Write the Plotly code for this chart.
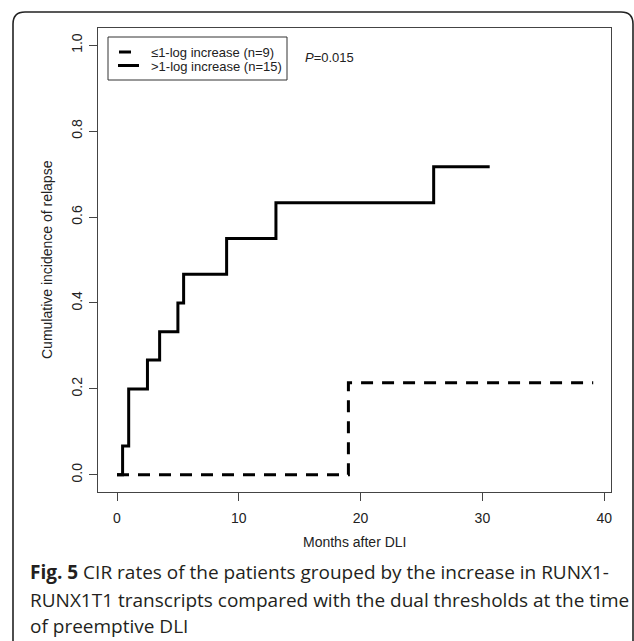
import plotly.graph_objects as go

# ---- data ----
months_high = [0, 0.46, 0.96, 2.5, 3.5, 5.0, 5.47, 9.0, 13.05, 26.0, 30.6]
cir_high = [0, 0.067, 0.2, 0.267, 0.333, 0.4, 0.467, 0.55, 0.633, 0.717, 0.717]
months_low = [0, 19.0, 39.1]
cir_low = [0, 0.214, 0.214]

x_ticks = [0, 10, 20, 30, 40]
y_ticks = [0.0, 0.2, 0.4, 0.6, 0.8, 1.0]
y_tick_labels = ["0.0", "0.2", "0.4", "0.6", "0.8", "1.0"]

legend_labels = ["≤1-log increase (n=9)", ">1-log increase (n=15)"]
p_text = "<i>P</i>=0.015"
x_title = "Months after DLI"
y_title = "Cumulative incidence of relapse"
caption_lines = [
    "<b>Fig. 5</b> CIR rates of the patients grouped by the increase in RUNX1-",
    "RUNX1T1 transcripts compared with the dual thresholds at the time",
    "of preemptive DLI",
]

W, H = 634, 641


def px(x):
    return x / W


def py(y):
    return 1 - y / H


fig = go.Figure()
fig.add_trace(go.Scatter(x=months_low, y=cir_low, mode="lines", line_shape="hv",
                         line=dict(color="black", width=3, dash="12px,9px"),
                         showlegend=False, hoverinfo="skip"))
fig.add_trace(go.Scatter(x=months_high, y=cir_high, mode="lines", line_shape="hv",
                         line=dict(color="black", width=3),
                         showlegend=False, hoverinfo="skip"))

FONT = "Liberation Sans, Arial"
axis_font = dict(family=FONT, size=14, color="#222")

fig.update_layout(
    width=W, height=H,
    margin=dict(l=0, r=0, t=0, b=0),
    paper_bgcolor="white", plot_bgcolor="white",
    xaxis=dict(domain=[px(98), px(611)], range=[-1.56, 40.56],
               tickvals=x_ticks, ticks="outside", ticklen=8, tickwidth=1,
               tickcolor="#444", showgrid=False, zeroline=False,
               showline=True, linecolor="#444", linewidth=1, mirror=True,
               tickfont=axis_font, ticklabelstandoff=5),
    yaxis=dict(domain=[py(492), py(28)], range=[-0.04, 1.04],
               tickvals=y_ticks, ticktext=y_tick_labels, ticks="outside",
               ticklen=8, tickwidth=1, tickcolor="#444", tickangle=-90,
               showgrid=False, zeroline=False,
               showline=True, linecolor="#444", linewidth=1, mirror=True,
               tickfont=axis_font, ticklabelstandoff=1),
    font=dict(family=FONT, color="#222"),
)

shapes = []
# outer rounded frame
r = 12
x0, y0, x1, y1 = 13, 12, 633, 700
path = (f"M {px(x0)},{py(y1)} L {px(x0)},{py(y0 + r)} "
        f"Q {px(x0)},{py(y0)} {px(x0 + r)},{py(y0)} "
        f"L {px(x1 - r)},{py(y0)} Q {px(x1)},{py(y0)} {px(x1)},{py(y0 + r)} "
        f"L {px(x1)},{py(y1)}")
shapes.append(dict(type="path", xref="paper", yref="paper", path=path,
                   line=dict(color="#222", width=1.6)))
# legend box
shapes.append(dict(type="rect", xref="paper", yref="paper",
                   x0=px(108), x1=px(287), y0=py(80), y1=py(37),
                   line=dict(color="#333", width=1), fillcolor="white"))
shapes.append(dict(type="line", xref="paper", yref="paper",
                   x0=px(119), x1=px(131), y0=py(52), y1=py(52),
                   line=dict(color="black", width=3)))
shapes.append(dict(type="line", xref="paper", yref="paper",
                   x0=px(118), x1=px(139), y0=py(65.5), y1=py(65.5),
                   line=dict(color="black", width=3)))
fig.update_layout(shapes=shapes)

ann = []
leg_font = dict(family=FONT, size=13, color="#222")
ann.append(dict(text=legend_labels[0], x=px(149), y=py(52.5), xref="paper", yref="paper",
                xanchor="left", yanchor="middle", showarrow=False, font=leg_font))
ann.append(dict(text=legend_labels[1], x=px(149), y=py(66.5), xref="paper", yref="paper",
                xanchor="left", yanchor="middle", showarrow=False, font=leg_font))
ann.append(dict(text=p_text, x=px(303), y=py(57), xref="paper", yref="paper",
                xanchor="left", yanchor="middle", showarrow=False, font=leg_font))
ann.append(dict(text=x_title, x=px(354.5), y=py(542), xref="paper", yref="paper",
                xanchor="center", yanchor="middle", showarrow=False,
                font=dict(family=FONT, size=14, color="#222")))
ann.append(dict(text=y_title, x=px(47), y=py(260), xref="paper", yref="paper",
                xanchor="center", yanchor="middle", showarrow=False, textangle=-90,
                font=dict(family=FONT, size=14, color="#222")))
for i, (line, yc) in enumerate(zip(caption_lines, [572, 600, 626])):
    ann.append(dict(text=line, x=px(28), y=py(yc), xref="paper", yref="paper",
                    xanchor="left", yanchor="middle", showarrow=False,
                    font=dict(family="Open Sans", size=19, color="#231f20")))
fig.update_layout(annotations=ann)

fig.write_html("out.html")
